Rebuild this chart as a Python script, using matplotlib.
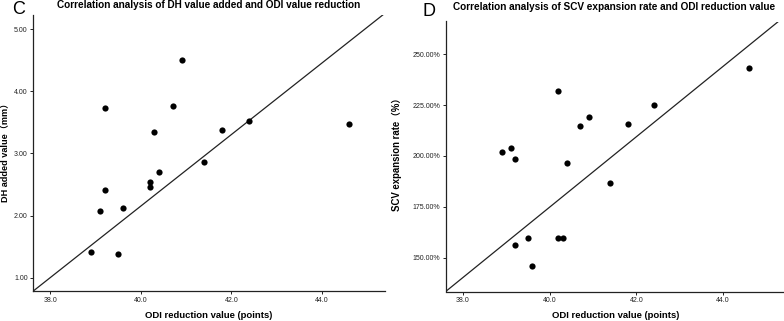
import matplotlib
matplotlib.use("Agg")
import matplotlib.pyplot as plt
from matplotlib.ticker import FuncFormatter

plt.rcParams['font.family'] = ['Liberation Sans', 'Noto Sans CJK SC', 'DejaVu Sans']

# ---- Data ----
dh_odi = [40.9, 39.2, 40.7, 40.3, 41.8, 42.4, 44.6, 41.4, 40.4, 40.2, 40.2, 39.2, 39.1, 39.6, 38.9, 39.5]
dh_added = [4.50, 3.73, 3.77, 3.35, 3.38, 3.52, 3.48, 2.87, 2.70, 2.54, 2.46, 2.42, 2.08, 2.13, 1.41, 1.38]
dh_line_x = [37.62, 45.35]
dh_line_y = [0.786, 5.23]

scv_odi = [44.6, 40.2, 42.4, 40.9, 40.7, 41.8, 39.1, 38.9, 39.2, 40.4, 41.4, 39.5, 40.2, 40.3, 39.2, 39.6]
scv_rate = [243.1, 232.0, 224.9, 219.0, 214.6, 215.6, 203.8, 202.1, 198.4, 196.4, 186.6, 159.7, 159.5, 159.5, 156.4, 146.1]
scv_line_x = [37.6, 45.32]
scv_line_y = [133.4, 266.9]

x_ticks = [38.0, 40.0, 42.0, 44.0]
dh_ticks = [1.0, 2.0, 3.0, 4.0, 5.0]
scv_ticks = [150, 175, 200, 225, 250]

W, H = 784, 321
fig = plt.figure(figsize=(W / 100, H / 100), dpi=100)

def px_axes(l, r, t, b):
    return fig.add_axes([l / W, 1 - b / H, (r - l) / W, (b - t) / H])

def style(ax):
    for s in ['top', 'right']:
        ax.spines[s].set_visible(False)
    for s in ['left', 'bottom']:
        ax.spines[s].set_linewidth(0.9)
        ax.spines[s].set_color('#222222')
    ax.tick_params(axis='both', direction='out', length=2.5, width=0.7,
                   labelsize=5, pad=1.5, colors='#222222')
    ax.set_xticks(x_ticks)
    ax.xaxis.set_major_formatter(FuncFormatter(lambda v, p: f"{v:.1f}"))

# Left panel
ax1 = px_axes(33.3, 385, 15, 291)
ax1.scatter(dh_odi, dh_added, s=20, color='black', zorder=3, linewidths=0)
ax1.plot(dh_line_x, dh_line_y, color='#222222', lw=0.9)
ax1.set_xlim(37.62, 45.4)
ax1.set_ylim(0.786, 5.23)
style(ax1)
ax1.set_yticks(dh_ticks)
ax1.yaxis.set_major_formatter(FuncFormatter(lambda v, p: f"{v:.2f}"))
ax1.set_xlabel("ODI reduction value (points)", fontsize=6.8, fontweight='bold', labelpad=5)
ax1.set_ylabel("DH added value（mm）", fontsize=6.6, fontweight='bold')
ax1.yaxis.set_label_coords((10.5 - 33.3) / (385 - 33.3), 0.511)
fig.text(208.5 / W, 1 - 5.5 / H,
         "Correlation analysis of DH value added and ODI value reduction",
         fontsize=7.2, fontweight='bold', ha='center', va='center')
fig.text(12 / W, 1 - 9 / H, "C", fontsize=13, va='center', ha='left')

# Right panel
ax2 = px_axes(445.7, 786, 21.5, 291.5)
ax2.scatter(scv_odi, scv_rate, s=20, color='black', zorder=3, linewidths=0)
ax2.plot(scv_line_x, scv_line_y, color='#222222', lw=0.9)
ax2.set_xlim(37.6, 45.45)
ax2.set_ylim(133.4, 266.1)
style(ax2)
ax2.set_yticks(scv_ticks)
ax2.yaxis.set_major_formatter(FuncFormatter(lambda v, p: f"{v:.2f}%"))
ax2.set_xlabel("ODI reduction value (points)", fontsize=6.8, fontweight='bold', labelpad=5)
ax2.set_ylabel("SCV expansion rate（%）", fontsize=6.9, fontweight='bold')
ax2.yaxis.set_label_coords((402 - 445.7) / (786 - 445.7), 0.515)
fig.text(614.5 / W, 1 - 7.5 / H,
         "Correlation analysis of SCV expansion rate and ODI reduction value",
         fontsize=7.2, fontweight='bold', ha='center', va='center')
fig.text(423 / W, 1 - 11.5 / H, "D", fontsize=13, va='center', ha='left')

fig.savefig("out.png", dpi=100)
